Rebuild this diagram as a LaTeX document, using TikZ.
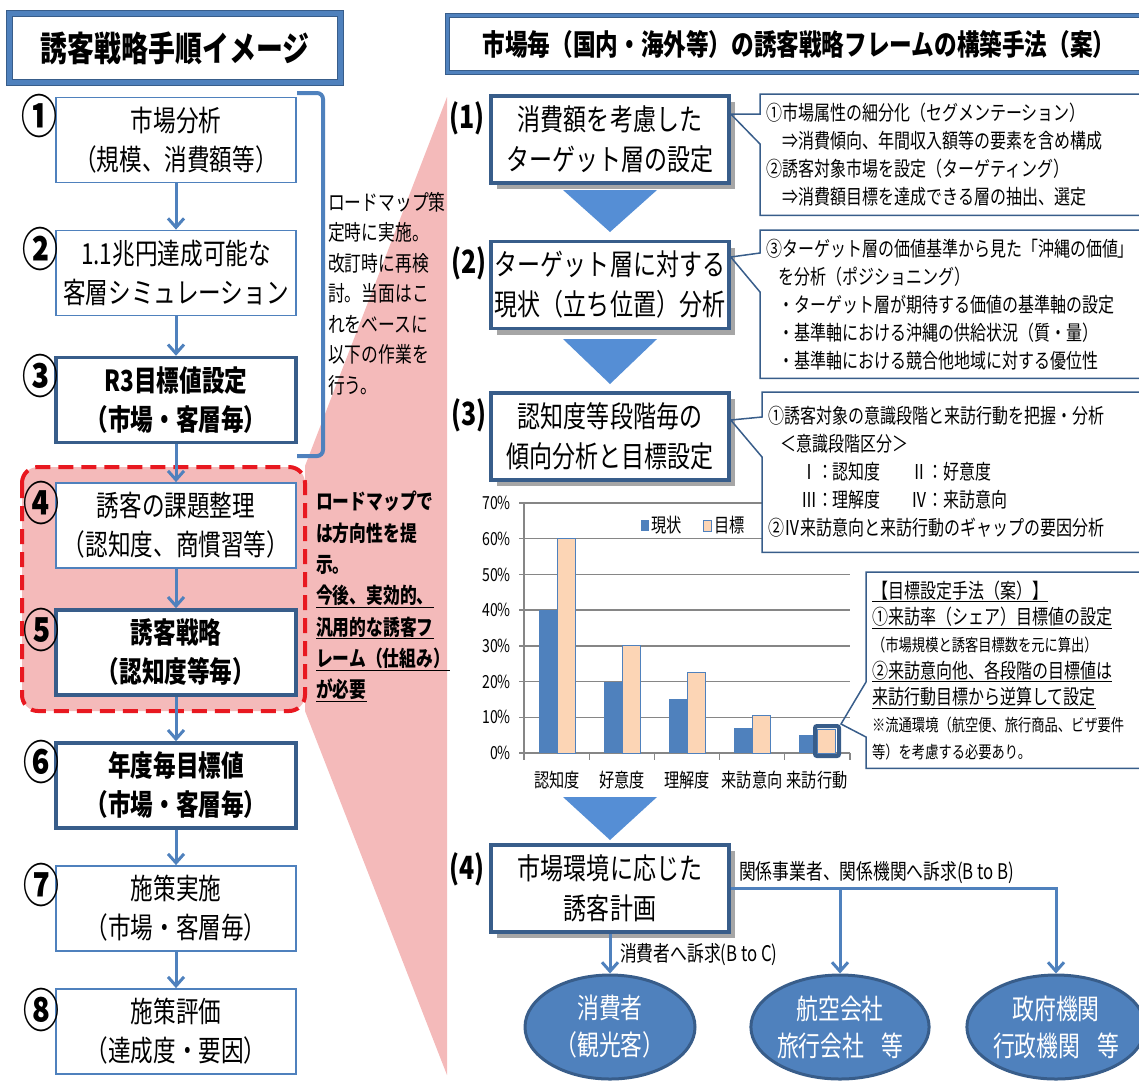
\documentclass[tikz,border=0pt]{standalone}
\usepackage{fontspec}
\setmainfont{Noto Sans CJK JP}[FakeStretch=0.78]
\usepackage{tikz}
\usetikzlibrary{arrows.meta,shapes.geometric,shadows}

\definecolor{boxblue}{RGB}{79,129,189}
\definecolor{darkblue}{RGB}{56,93,138}
\definecolor{triblue}{RGB}{85,142,213}
\definecolor{peach}{RGB}{252,213,181}
\definecolor{pinkdots}{RGB}{244,186,186}
\definecolor{dashred}{RGB}{232,24,32}
\definecolor{gridgray}{RGB}{134,134,134}

\tikzset{
  titleframe/.style={draw=darkblue, line width=0.8pt, double=boxblue, fill=white, inner sep=0pt},
  stepbox/.style={draw=boxblue, line width=1.8pt, fill=white, minimum width=240pt, minimum height=85pt,
    inner sep=0pt, align=center, font=\fontsize{29}{39}\selectfont},
  keybox/.style={stepbox, draw=darkblue, line width=3.5pt, font=\bfseries\fontsize{29}{39}\selectfont},
  stepnum/.style={inner sep=0pt, font=\bfseries\fontsize{46}{46}\selectfont},
  flow/.style={draw=boxblue, line width=3pt, -{Straight Barb[length=9pt,width=16pt]}},
  bracketline/.style={draw=boxblue, line width=4pt, rounded corners=6pt},
  dashframe/.style={draw=dashred, line width=4pt, dash pattern=on 15pt off 8pt, rounded corners=16pt, fill=pinkdots},
  sidenote/.style={anchor=north west, inner sep=0pt, align=left},
  stagebox/.style={draw=darkblue, line width=3.5pt, fill=white, minimum width=238pt, minimum height=87pt,
    inner sep=0pt, align=center, font=\fontsize{29.5}{40}\selectfont,
    drop shadow={shadow xshift=6pt, shadow yshift=-6pt, fill=black, opacity=0.35}},
  stagenum/.style={inner sep=0pt, font=\bfseries\fontsize{32}{32}\selectfont},
  notebox/.style={anchor=north west, fill=white, inner xsep=6pt, inner ysep=0pt, align=left,
    font=\fontsize{20.5}{28}\selectfont},
  noteline/.style={draw=darkblue, line width=1.5pt},
  gridline/.style={draw=gridgray, line width=1.5pt},
  axislabel/.style={inner sep=0pt, font=\fontsize{18}{18}\selectfont},
  catlabel/.style={inner sep=0pt, font=\fontsize{19.5}{19.5}\selectfont},
  target/.style={ellipse, draw=darkblue, line width=3pt, fill=boxblue, text=white, minimum width=170pt,
    minimum height=104pt, inner sep=0pt, align=center, font=\fontsize{28}{37}\selectfont},
  flowlabel/.style={anchor=west, inner sep=0pt, font=\fontsize{21.5}{21.5}\selectfont}
}

\begin{document}
\begin{tikzpicture}[x=1pt, y=-1pt]
\useasboundingbox (0,0) rectangle (1139,1088);

% zoom region behind the left column
\fill[pinkdots] (447,97) -- (305,466) -- (305,711) -- (447,1075) -- cycle;
\draw[dashframe] (22,467) rectangle (305,711);

% titles
\node[titleframe, double distance=5.5pt, minimum width=331pt, minimum height=69pt,
  font=\bfseries\fontsize{34.5}{34.5}\selectfont] (ltitle) at (175,48) {誘客戦略手順イメージ};
\node[titleframe, double distance=3pt, minimum width=703pt, minimum height=57pt,
  font=\bfseries\fontsize{29}{29}\selectfont] (rtitle) at (799,44) {市場毎（国内・海外等）の誘客戦略フレームの構築手法（案）};

% bracket for steps 1-3
\draw[bracketline] (297,93) -- (323,93) -- (323,456) -- (297,456);
\node[sidenote, font=\fontsize{21.5}{30.5}\selectfont] (roadmap) at (328,192)
  {ロードマップ策\\定時に実施。\\改訂時に再検\\討。当面はこ\\れをベースに\\以下の作業を\\行う。};
\node[sidenote, font=\bfseries\fontsize{21.5}{31.3}\selectfont] (framework) at (316,491)
  {ロードマップで\\は方向性を提\\示。\\\underline{今後、実効的、}\\\underline{汎用的な誘客フ}\\\underline{レーム（仕組み）}\\\underline{が必要}};

% left column steps
\node[stepbox] (b1) at (176,140) {市場分析\\（規模、消費額等）};
\node[stepbox] (b2) at (176,273) {1.1兆円達成可能な\\客層シミュレーション};
\node[keybox] (b3) at (176,400) {R3目標値設定\\（市場・客層毎）};
\node[stepbox] (b4) at (176,525.5) {誘客の課題整理\\（認知度、商慣習等）};
\node[keybox] (b5) at (176,652.5) {誘客戦略\\（認知度等毎）};
\node[keybox] (b6) at (176,785.5) {年度毎目標値\\（市場・客層毎）};
\node[stepbox] (b7) at (176,908.5) {施策実施\\（市場・客層毎）};
\node[stepbox] (b8) at (176,1031.5) {施策評価\\（達成度・要因）};

\draw[flow] (b1) -- (b2);
\draw[flow] (b2) -- (b3);
\draw[flow] (b3) -- (b4);
\draw[flow] (b4) -- (b5);
\draw[flow] (b5) -- (b6);
\draw[flow] (b6) -- (b7);
\draw[flow] (b7) -- (b8);

\node[stepnum] (c1) at (39,116) {①};
\node[stepnum] (c2) at (40,249) {②};
\node[stepnum] (c3) at (40,376) {③};
\node[stepnum] (c4) at (41,503) {④};
\node[stepnum] (c5) at (41,630) {⑤};
\node[stepnum] (c6) at (41,762) {⑥};
\node[stepnum] (c7) at (41,885) {⑦};
\node[stepnum] (c8) at (41,1010) {⑧};

% bar chart
\begin{scope}[shift={(0,753)}, y=3.5714pt]
  \foreach \v in {10,20,...,70} \draw[gridline] (524,\v) -- (850,\v);
  \draw[gridline] (524,0) -- (524,70);
  \draw[gridline] (524,0) -- (850,0);
  \foreach \v in {0,10,...,70} \draw[gridline] (519,\v) -- (524,\v);
  \foreach \x in {524,589.5,654.5,719.5,784.5,850} \draw[gridline] (\x,0) -- (\x,-2);
  \foreach \v in {0,10,...,70} \node[axislabel, anchor=east] (y\v) at (511,\v) {\v\%};
  % now
  \fill[boxblue] (539,0) rectangle (557,40);
  \fill[boxblue] (604,0) rectangle (622,20);
  \fill[boxblue] (669,0) rectangle (687,15);
  \fill[boxblue] (734,0) rectangle (752,7);
  \fill[boxblue] (799,0) rectangle (817,5);
  % goal
  \filldraw[fill=peach, draw=boxblue, line width=1pt] (557,0) rectangle (575,60);
  \filldraw[fill=peach, draw=boxblue, line width=1pt] (622,0) rectangle (640,30);
  \filldraw[fill=peach, draw=boxblue, line width=1pt] (687,0) rectangle (705,22.5);
  \filldraw[fill=peach, draw=boxblue, line width=1pt] (752,0) rectangle (770,10.5);
  \filldraw[fill=peach, draw=boxblue, line width=1pt] (817,0) rectangle (835,6.5);
\end{scope}
\node[catlabel] (k1) at (557,780) {認知度};
\node[catlabel] (k2) at (622,780) {好意度};
\node[catlabel] (k3) at (687,780) {理解度};
\node[catlabel] (k4) at (752,780) {来訪意向};
\node[catlabel] (k5) at (817,780) {来訪行動};
\fill[boxblue] (641,520) rectangle (649,531);
\node[catlabel, anchor=west] (lg1) at (651,525) {現状};
\filldraw[fill=peach, draw=boxblue, line width=0.8pt] (703,520) rectangle (711,531);
\node[catlabel, anchor=west] (lg2) at (714,525) {目標};
\node[draw=darkblue, line width=4pt, rounded corners=2pt, minimum width=24pt, minimum height=30pt,
  inner sep=0pt] (hl) at (827,741) {};

% stages on the right
\node[stagebox] (s1) at (610,139.5) {消費額を考慮した\\ターゲット層の設定};
\node[stagebox] (s2) at (610,285) {ターゲット層に対する\\現状（立ち位置）分析};
\node[stagebox] (s3) at (610,436.5) {認知度等段階毎の\\傾向分析と目標設定};
\node[stagebox] (s4) at (610,888.5) {市場環境に応じた\\誘客計画};
\node[stagenum] (l1) at (467,118) {(1)};
\node[stagenum] (l2) at (469,263) {(2)};
\node[stagenum] (l3) at (469,415) {(3)};
\node[stagenum] (l4) at (467,869) {(4)};

\fill[triblue] (563,190) -- (657,190) -- (610,232) -- cycle;
\fill[triblue] (563,339) -- (657,339) -- (610,384) -- cycle;
\fill[triblue] (563,797) -- (657,797) -- (610,840) -- cycle;

% notes with pointers
\node[notebox, text width=378pt, minimum height=121pt] (a1) at (760,94)
  {①市場属性の細分化（セグメンテーション）\\
   \hspace*{0.8em}⇒消費傾向、年間収入額等の要素を含め構成\\
   ②誘客対象市場を設定（ターゲティング）\\
   \hspace*{0.8em}⇒消費額目標を達成できる層の抽出、選定};
\draw[noteline] ([yshift=-20pt]a1.north west) -- (a1.north west) -- (a1.north east) -- (a1.south east)
  -- (a1.south west) -- ([yshift=-50pt]a1.north west) -- ([yshift=25.5pt]s1.east) -- cycle;

\node[notebox, text width=378pt, minimum height=148pt] (a2) at (760,230)
  {③ターゲット層の価値基準から見た「沖縄の価値」\\
   \hspace*{0.6em}を分析（ポジショニング）\\
   \hspace*{0.6em}・ターゲット層が期待する価値の基準軸の設定\\
   \hspace*{0.6em}・基準軸における沖縄の供給状況（質・量）\\
   \hspace*{0.6em}・基準軸における競合他地域に対する優位性};
\draw[noteline] ([yshift=-23pt]a2.north west) -- (a2.north west) -- (a2.north east) -- (a2.south east)
  -- (a2.south west) -- ([yshift=-62pt]a2.north west) -- ([yshift=28pt]s2.east) -- cycle;

\node[notebox, text width=376pt, minimum height=160pt] (a3) at (762,392)
  {①誘客対象の意識段階と来訪行動を把握・分析\\
   \hspace*{0.6em}＜意識段階区分＞\\
   \hspace*{1.6em}Ⅰ：認知度\hspace{1.5em}Ⅱ：好意度\\
   \hspace*{1.6em}Ⅲ：理解度\hspace{1.5em}Ⅳ：来訪意向\\
   ②Ⅳ来訪意向と来訪行動のギャップの要因分析};
\draw[noteline] ([yshift=-25pt]a3.north west) -- (a3.north west) -- (a3.north east) -- (a3.south east)
  -- (a3.south west) -- ([yshift=-65pt]a3.north west) -- ([yshift=16.5pt]s3.east) -- cycle;

\node[notebox, text width=272pt, minimum height=196pt, font=\fontsize{20.5}{26.7}\selectfont] (goal) at (866,572)
  {\underline{【目標設定手法（案）】}\\
   \underline{①来訪率（シェア）目標値の設定}\\
   {\fontsize{17}{26.7}\selectfont （市場規模と誘客目標数を元に算出）}\\
   \underline{②来訪意向他、各段階の目標値は}\\
   \underline{来訪行動目標から逆算して設定}\\
   {\fontsize{17}{26.7}\selectfont ※流通環境（航空便、旅行商品、ビザ要件}\\
   {\fontsize{17}{26.7}\selectfont 等）を考慮する必要あり。}};
\draw[noteline] ([yshift=-110pt]goal.north west) -- (goal.north west) -- (goal.north east) -- (goal.south east)
  -- (goal.south west) -- ([yshift=-165pt]goal.north west) -- (hl.north east) -- cycle;

% targets of the plan
\node[target] (e1) at (610,1027) {消費者\\（観光客）};
\node[target] (e2) at (840,1027) {航空会社\\旅行会社\hspace{0.6em}等};
\node[target] (e3) at (1056,1027) {政府機関\\行政機関\hspace{0.6em}等};

\draw[flow] (s4.south) -- (e1.north);
\draw[flow] (s4.east) -| (e3.north);
\draw[flow] (e2.north |- s4.east) -- (e2.north);
\node[flowlabel] (btc) at (620,955) {消費者へ訴求(B to C)};
\node[flowlabel] (btb) at (739,873) {関係事業者、関係機関へ訴求(B to B)};

\end{tikzpicture}
\end{document}
